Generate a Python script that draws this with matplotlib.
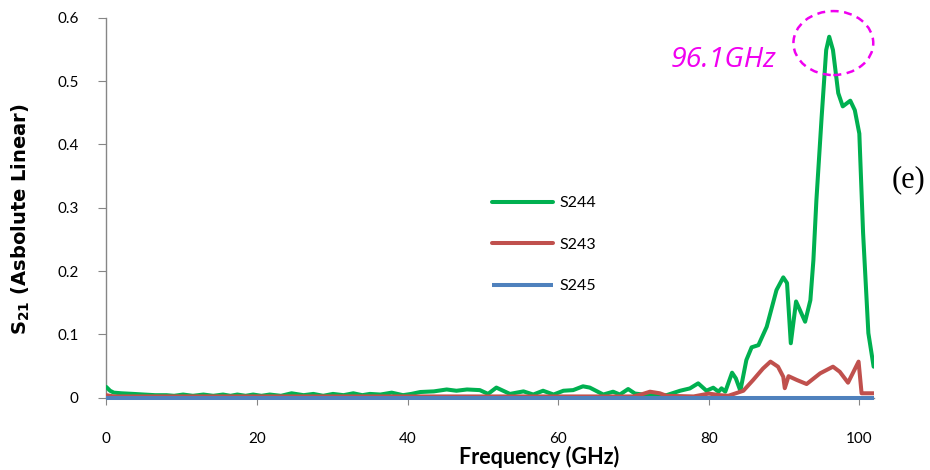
import matplotlib
matplotlib.use("Agg")
import matplotlib.pyplot as plt
from matplotlib.patches import Ellipse

# ---------------- data ----------------
freq_s244 = [0, 0.5, 1, 2, 3.6, 5, 6.5, 8, 9, 10.2, 11.5, 12.9, 14.2, 15.5, 16.5, 17.4,
             18.5, 19.5, 20.6, 21.7, 23.2, 24.6, 26.2, 27.5, 28.8, 30.1, 31.5, 32.8,
             34.0, 35.0, 36.4, 37.9, 39.4, 40.5, 41.7, 43.5, 45.2, 46.5, 47.9, 49.6,
             50.7, 51.8, 53.6, 55.4, 56.7, 58.0, 59.4, 60.7, 62.0, 63.3, 64.2, 66.0,
             67.3, 68.2, 69.3, 70.2, 72.0, 74.4, 76.2, 77.5, 78.6, 79.7, 80.6, 81.3,
             81.7, 82.2, 83.1, 83.6, 84.2, 85.0, 85.7, 86.6, 87.7, 89.0, 89.9, 90.4,
             90.9, 91.6, 92.8, 93.5, 93.9, 94.3, 95.0, 95.6, 96.0, 96.5, 97.2, 97.8,
             98.8, 99.4, 100.0, 100.5, 101.2, 101.9]
s244 = [0.017, 0.011, 0.008, 0.007, 0.006, 0.005, 0.004, 0.004, 0.003, 0.005, 0.003,
        0.005, 0.003, 0.005, 0.003, 0.005, 0.003, 0.005, 0.003, 0.005, 0.003, 0.007,
        0.004, 0.006, 0.003, 0.006, 0.004, 0.007, 0.004, 0.006, 0.005, 0.008, 0.004,
        0.006, 0.009, 0.010, 0.013, 0.011, 0.013, 0.012, 0.006, 0.016, 0.006, 0.010,
        0.005, 0.011, 0.005, 0.011, 0.012, 0.018, 0.016, 0.005, 0.0095, 0.005, 0.0137,
        0.0066, 0.004, 0.004, 0.011, 0.0147, 0.0227, 0.011, 0.0158, 0.0095, 0.0148,
        0.0095, 0.0395, 0.0306, 0.011, 0.0595, 0.0796, 0.083, 0.112, 0.170, 0.190,
        0.181, 0.086, 0.152, 0.120, 0.154, 0.217, 0.312, 0.444, 0.549, 0.570, 0.549,
        0.481, 0.460, 0.469, 0.454, 0.417, 0.260, 0.102, 0.049]

freq_s243 = [0, 1, 70, 71, 72.2, 73.5, 74.4, 78, 80, 81.5, 82.6, 84.6, 85.9, 87.2, 88.2,
             89.2, 89.9, 90.1, 90.6, 91.7, 93.0, 94.8, 96.5, 97.4, 98.5, 99.9, 100.3,
             101.9]
s243 = [0.004, 0.002, 0.002, 0.005, 0.0095, 0.007, 0.003, 0.002, 0.0065, 0.004, 0.003,
        0.011, 0.028, 0.046, 0.057, 0.049, 0.033, 0.015, 0.034, 0.028, 0.0216, 0.0385,
        0.049, 0.041, 0.0237, 0.057, 0.007, 0.007]

freq_s245 = [0, 102]
s245 = [0.0, 0.0]

series_names = ["S244", "S243", "S245"]
series_colors = ["#00B050", "#C0504D", "#4F81BD"]

x_ticks = [0, 20, 40, 60, 80, 100]
y_ticks = [0, 0.1, 0.2, 0.3, 0.4, 0.5, 0.6]
y_tick_labels = ["0", "0.1", "0.2", "0.3", "0.4", "0.5", "0.6"]

peak_label = "96.1GHz"
panel_label = "(e)"

# ---------------- figure ----------------
plt.rcParams['mathtext.fontset'] = 'dejavusans'

fig = plt.figure(figsize=(9.3, 4.7), dpi=100)
ax = fig.add_axes([0.1143, 0.1538, 0.8259, 0.8085])

lw = 2.9
ax.plot(freq_s244, s244, color=series_colors[0], lw=lw, label=series_names[0],
        solid_joinstyle='round', solid_capstyle='round', zorder=3)
ax.plot(freq_s243, s243, color=series_colors[1], lw=lw, label=series_names[1],
        solid_joinstyle='round', solid_capstyle='round', zorder=4)
ax.plot(freq_s245, s245, color=series_colors[2], lw=lw, label=series_names[2],
        solid_capstyle='butt', zorder=5, clip_on=False)

ax.set_xlim(0, 102)
ax.set_ylim(0, 0.6)

spine_col = "#868686"
for s in ['top', 'right']:
    ax.spines[s].set_visible(False)
for s in ['left', 'bottom']:
    ax.spines[s].set_color(spine_col)
    ax.spines[s].set_linewidth(1.0)

ax.set_xticks(x_ticks)
ax.set_yticks(y_ticks)
ax.set_yticklabels(y_tick_labels)
ax.tick_params(axis='x', direction='out', length=5, color=spine_col, pad=20,
               labelsize=11, labelcolor='#000000')
ax.tick_params(axis='y', direction='out', length=6, color=spine_col, pad=14,
               labelsize=11, labelcolor='#000000')
for lab in ax.get_xticklabels() + ax.get_yticklabels():
    lab.set_fontfamily('Lato')

ax.set_xlabel("Frequency (GHz)", fontfamily='Lato', fontweight='bold', fontsize=15.5,
              labelpad=0)
ax.xaxis.set_label_coords((539 - 106.3) / 768.1, -0.155)
ax.xaxis.label.set_va('center')

ax.set_ylabel(r"$\mathbf{S_{21}}$ (Asbolute Linear)", fontfamily='DejaVu Sans',
              fontweight='bold', fontsize=14)
ax.yaxis.set_label_coords(21 / 930, 1 - 219 / 470, transform=fig.transFigure)
ax.yaxis.label.set_va('center')

leg = ax.legend(loc='upper left', bbox_to_anchor=(0.5294, 0.583),
                bbox_transform=fig.transFigure, frameon=False,
                handlelength=3.8, handletextpad=0.4, labelspacing=1.72,
                borderpad=0, borderaxespad=0, prop={'family': 'Lato', 'size': 11.5})

ax.text(74.9, 0.522, peak_label, color='#F000F0', fontsize=20.5,
        fontfamily='Open Sans', fontstyle='italic', ha='left', va='baseline')

ell = Ellipse((96.55, 0.560), 10.6, 0.101, fill=False, edgecolor='#F000F0',
              linestyle=(0, (3.2, 2.2)), linewidth=1.8, clip_on=False, zorder=6)
ax.add_patch(ell)

fig.text(908 / 930, 1 - 180 / 470, panel_label, fontfamily='Liberation Serif',
         fontsize=22, ha='center', va='center')

fig.savefig("out.png", dpi=100)
